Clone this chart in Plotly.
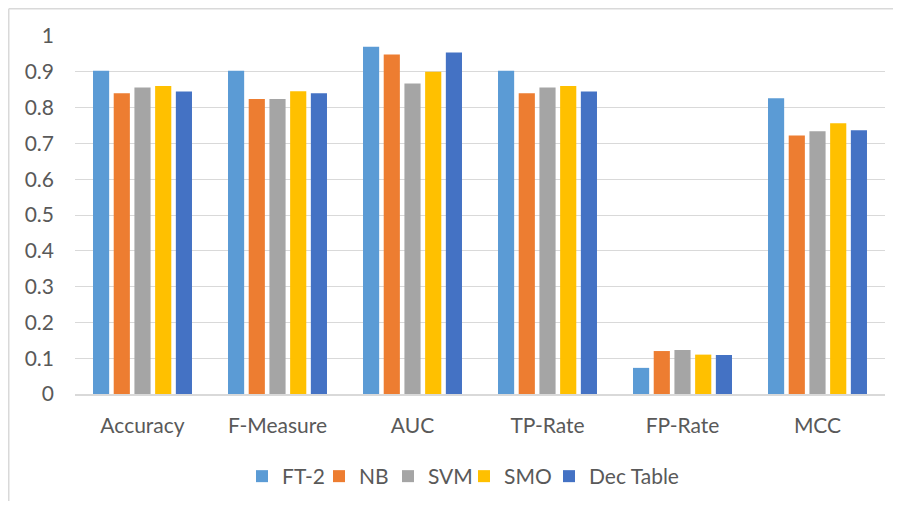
import plotly.graph_objects as go

categories = ["Accuracy", "F-Measure", "AUC", "TP-Rate", "FP-Rate", "MCC"]
ft2 = [0.903, 0.903, 0.970, 0.903, 0.073, 0.826]
nb = [0.840, 0.824, 0.948, 0.840, 0.120, 0.722]
svm = [0.856, 0.824, 0.867, 0.856, 0.123, 0.734]
smo = [0.860, 0.846, 0.900, 0.860, 0.110, 0.756]
dec_table = [0.845, 0.840, 0.954, 0.845, 0.109, 0.737]
series_names = ["FT-2", "NB", "SVM", "SMO", "Dec Table"]
y_ticks = [0, 0.1, 0.2, 0.3, 0.4, 0.5, 0.6, 0.7, 0.8, 0.9, 1]
y_tick_labels = ["0", "0.1", "0.2", "0.3", "0.4", "0.5", "0.6", "0.7", "0.8", "0.9", "1"]

colors = ["#5B9BD5", "#ED7D31", "#A5A5A5", "#FFC000", "#4472C4"]
series = [ft2, nb, svm, smo, dec_table]
legend_symbol_px = [266, 343, 412, 488, 573]  # legend swatch centres (page px)

OFF = 8  # page body margin
W, H = 901 - 2 * OFF, 509 - 2 * OFF
ml, mt = 75 - OFF, 36 - OFF
mr = W - (885 - OFF)
mb = H - (394 - OFF)
pw, ph = W - ml - mr, H - mt - mb


def px_x(p):
    return (p - OFF - ml) / pw


def px_y(p):
    return (H - mb - (p - OFF)) / ph


font_fam = "Lato, 'Open Sans', sans-serif"
fs = 21

fig = go.Figure()
legend_layouts = {}
for i, (name, vals, col) in enumerate(zip(series_names, series, colors)):
    lname = "legend" if i == 0 else f"legend{i + 1}"
    fig.add_trace(go.Bar(x=categories, y=vals, name=name, marker_color=col,
                         marker_line_width=0, legend=lname))
    legend_layouts[lname] = dict(
        orientation="h", x=px_x(legend_symbol_px[i] - 24), xanchor="left",
        y=px_y(476.5), yanchor="middle", bgcolor="rgba(0,0,0,0)",
        font=dict(size=fs, color="#595959", family=font_fam), itemwidth=30)

fig.update_layout(
    width=W, height=H,
    margin=dict(l=ml, r=mr, t=mt, b=mb, pad=0, autoexpand=False),
    paper_bgcolor="white", plot_bgcolor="white",
    barmode="group", bargap=0.233, bargroupgap=0.22,
    font=dict(family=font_fam, color="#595959", size=fs),
    showlegend=True,
    xaxis=dict(showgrid=False, showline=True, linecolor="#D9D9D9", linewidth=1.5,
               ticks="", ticklabelstandoff=12, tickfont=dict(size=fs)),
    yaxis=dict(range=[0, 1], tickvals=y_ticks, ticktext=y_tick_labels,
               showgrid=True, gridcolor="#D9D9D9", gridwidth=1,
               zeroline=False, showline=False, ticks="",
               ticklabelstandoff=20, tickfont=dict(size=fs)),
    shapes=[
        dict(type="line", xref="paper", yref="paper",
             x0=px_x(8.75), x1=px_x(910), y0=px_y(8.75), y1=px_y(8.75),
             line=dict(color="#D9D9D9", width=1.5)),
        dict(type="line", xref="paper", yref="paper",
             x0=px_x(8.75), x1=px_x(8.75), y0=px_y(8.75), y1=px_y(515),
             line=dict(color="#D9D9D9", width=1.5)),
    ],
    **legend_layouts,
)

fig.write_html("out.html")
